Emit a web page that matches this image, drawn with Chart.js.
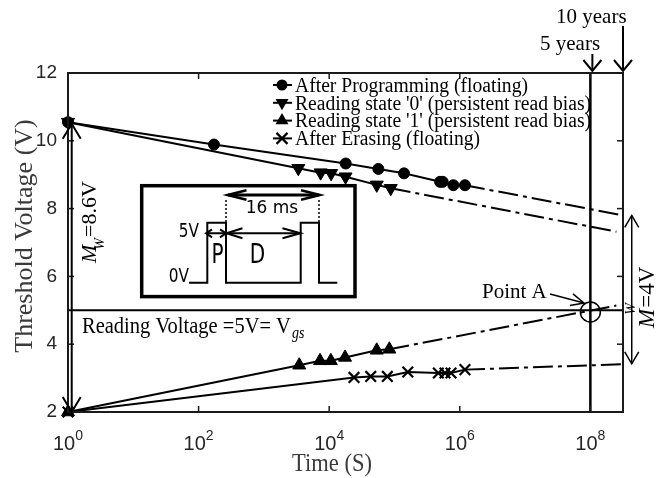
<!DOCTYPE html>
<html><head><meta charset="utf-8">
<script src="https://cdn.jsdelivr.net/npm/chart.js@4/dist/chart.umd.min.js"></script>
<style>html,body{margin:0;padding:0;background:#fff;}#wrap{width:662px;height:478px;position:relative;}canvas{display:block;}</style>
</head><body>
<div id="wrap"><canvas id="c" width="662" height="478"></canvas></div>
<script>
// ---------- data ----------
const seriesNames = [
  "After Programming (floating)",
  "Reading state '0' (persistent read bias)",
  "Reading state '1' (persistent read bias)",
  "After Erasing (floating)"
];
const progT  = [1, 172, 17900, 56600, 140000, 499000, 548000, 797000, 1200000];
const progV  = [10.55, 9.89, 9.33, 9.17, 9.04, 8.79, 8.79, 8.69, 8.69];
const read0T = [1, 3370, 7400, 10700, 17800, 53500, 87700];
const read0V = [10.55, 9.19, 9.06, 9.04, 8.94, 8.70, 8.60];
const read1T = [1, 3480, 7240, 10600, 17500, 53500, 83400];
const read1V = [2.0, 3.38, 3.51, 3.51, 3.61, 3.82, 3.85];
const eraseT = [1, 24000, 43300, 77700, 160000, 470000, 594000, 734000, 1200000];
const eraseV = [2.0, 3.02, 3.05, 3.05, 3.18, 3.15, 3.15, 3.15, 3.25];
// dash-dot extrapolations
const progExtT  = [1200000, 3.16e8];  const progExtV  = [8.69, 7.80];
const read0ExtT = [87700, 2.5e8];     const read0ExtV = [8.60, 7.32];
const read1ExtT = [83400, 2.5e8];     const read1ExtV = [3.85, 5.14];
const eraseExtT = [1200000, 3.16e8];  const eraseExtV = [3.25, 3.41];
// axes
const xMin = 1, xMax = 3.16e8, yMin = 2, yMax = 12;
const yTicks = [2, 4, 6, 8, 10, 12];
const xTickExps = [0, 2, 4, 6, 8];
// annotations
const readVoltage = 5;
const fiveYearsT = 1e8, tenYearsT = 3.16e8;
const pointA = [1e8, 4.95];
const mwLeftT = 1.14, mwLeftV = [10.5, 2.0];
const mwRightT = 4.3e8, mwRightV = [7.8, 3.42];
const texts = {
  xTitle: "Time (S)", yTitle: "Threshold Voltage (V)",
  read: "Reading Voltage =5V= V", readSub: "gs",
  pointA: "Point A", tenY: "10 years", fiveY: "5 years",
  mwL: "=8.6V", mwR: "=4V",
  t16: "16 ms", v5: "5V", v0: "0V", p: "P", d: "D"
};

function pts(T, V){ return T.map((t,i)=>({x:t, y:V[i]})); }

const serif = '"Liberation Serif","Times New Roman",serif';
const sans = '"Liberation Sans",Arial,sans-serif';
const dvs = '"DejaVu Sans",sans-serif';
const DASH = [20,5,4,5];

function solid(label, T, V, style, radius, rotation){
  return {label, data: pts(T,V), showLine:true, borderColor:'#000', backgroundColor:'#000',
    borderWidth:2, pointStyle:style, pointRadius:radius, pointRotation:rotation||0,
    pointBorderWidth:1, pointBackgroundColor:'#000', pointBorderColor:'#000', clip:false, tension:0};
}
function ext(T, V){
  return {label:'', data: pts(T,V), showLine:true, borderColor:'#000', borderWidth:2,
    borderDash:DASH, pointRadius:0, clip:false, tension:0};
}

function line(ctx,x1,y1,x2,y2){ ctx.beginPath(); ctx.moveTo(x1,y1); ctx.lineTo(x2,y2); ctx.stroke(); }
function chevron(ctx, tx, ty, ang, len, half){
  const c=Math.cos(ang), s=Math.sin(ang);
  const bx=tx-c*len, by=ty-s*len;
  ctx.beginPath();
  ctx.moveTo(bx - s*half, by + c*half); ctx.lineTo(tx,ty); ctx.lineTo(bx + s*half, by - c*half);
  ctx.stroke();
}
function marker(ctx, style, x, y){
  ctx.fillStyle='#000'; ctx.strokeStyle='#000'; ctx.lineWidth=1;
  ctx.beginPath();
  if(style==='circle'){ ctx.arc(x,y,5.5,0,Math.PI*2); ctx.fill(); }
  else if(style==='up' || style==='down'){
    const r=7.5, d = style==='up'?1:-1;
    for(let k=0;k<3;k++){ const a=k*2*Math.PI/3; const px=x+Math.sin(a)*r, py=y-d*Math.cos(a)*r; k?ctx.lineTo(px,py):ctx.moveTo(px,py);} ctx.closePath(); ctx.fill();
  } else { ctx.lineWidth=2.2; const o=5.5; ctx.moveTo(x-o,y-o); ctx.lineTo(x+o,y+o); ctx.moveTo(x+o,y-o); ctx.lineTo(x-o,y+o); ctx.stroke(); }
}

const deco = {
  id:'deco',
  beforeDatasetsDraw(chart){
    const {ctx, chartArea:a, scales:{x,y}} = chart;
    ctx.save();
    ctx.strokeStyle='#000';
    ctx.lineWidth=2;
    const yr = y.getPixelForValue(readVoltage);
    line(ctx, a.left, yr, a.right, yr);
    ctx.lineWidth=2.5;
    const x5 = x.getPixelForValue(fiveYearsT);
    line(ctx, x5, a.top, x5, a.bottom);
    // inset
    ctx.fillStyle='#fff'; ctx.lineWidth=3.5;
    ctx.fillRect(141.7,185.7,213.3,110.9); ctx.strokeRect(141.7,185.7,213.3,110.9);
    ctx.lineWidth=2;
    ctx.beginPath();
    const wv=[[189,282.7],[207.3,282.7],[207.3,222.7],[226,222.7],[226,282.7],[300.7,282.7],[300.7,222.7],[319,222.7],[319,282.7],[337.3,282.7]];
    wv.forEach((p,i)=> i?ctx.lineTo(p[0],p[1]):ctx.moveTo(p[0],p[1])); ctx.stroke();
    ctx.lineWidth=1.5; ctx.setLineDash([2,2]);
    line(ctx,226,200,226,222); line(ctx,319,200,319,222);
    ctx.setLineDash([]);
    ctx.lineWidth=3; line(ctx,228,195,319,195);
    ctx.lineWidth=2.5; chevron(ctx,227.5,195,Math.PI,19,4.8); chevron(ctx,320,195,0,19,4.8);
    ctx.lineWidth=2; line(ctx,206,233.3,300,233.3);
    chevron(ctx,206,233.3,Math.PI,6,4); chevron(ctx,226,233.3,0,6,4);
    chevron(ctx,226.5,233.3,Math.PI,16,5); chevron(ctx,300.5,233.3,0,18,5);
    ctx.fillStyle='#000';
    ctx.font='17px '+dvs; ctx.textAlign='center'; ctx.textBaseline='alphabetic';
    ctx.fillText(texts.t16, 272, 212.7);
    ctx.textAlign='right';
    [[texts.v5,199,236.5],[texts.v0,189,281.7]].forEach(([t,tx,ty])=>{ ctx.save(); ctx.translate(tx,ty); ctx.scale(0.9,1.1); ctx.fillText(t,0,0); ctx.restore(); });
    ctx.font='25px '+dvs; ctx.textAlign='center';
    [[texts.p,217.5],[texts.d,257.5]].forEach(([t,cx])=>{ ctx.save(); ctx.translate(cx,263); ctx.scale(0.8,1.05); ctx.fillText(t,0,0); ctx.restore(); });
    ctx.restore();
  },
  afterDraw(chart){
    const {ctx, chartArea:a, scales:{x,y}} = chart;
    ctx.save();
    ctx.strokeStyle='#1a1a1a'; ctx.lineWidth=2;
    ctx.strokeRect(a.left, a.top, a.right-a.left, a.bottom-a.top);
    ctx.lineWidth=1.5;
    yTicks.forEach(v=>{ const py=y.getPixelForValue(v); line(ctx,a.left,py,a.left+6,py); line(ctx,a.right,py,a.right-6,py); });
    xTickExps.forEach(e=>{ const px=x.getPixelForValue(Math.pow(10,e)); line(ctx,px,a.bottom,px,a.bottom-6); line(ctx,px,a.top,px,a.top+6); });
    // x tick labels with superscripts
    ctx.fillStyle='#262626'; ctx.textAlign='left'; ctx.textBaseline='alphabetic';
    xTickExps.forEach(e=>{
      const px=x.getPixelForValue(Math.pow(10,e));
      ctx.font='20px '+sans; const w1=ctx.measureText('10').width;
      ctx.font='14px '+sans; const w2=ctx.measureText(String(e)).width;
      const st=px-(w1+w2)/2;
      ctx.font='20px '+sans; ctx.fillText('10', st, 450);
      ctx.font='14px '+sans; ctx.fillText(String(e), st+w1, 440);
    });
    // axis titles
    ctx.fillStyle='#3a3a3a';
    ctx.font='22.5px '+serif; ctx.textAlign='center';
    ctx.save(); ctx.translate(332,471); ctx.scale(1,1.1); ctx.fillText(texts.xTitle, 0, 0); ctx.restore();
    ctx.save(); ctx.translate(32, 236); ctx.rotate(-Math.PI/2);
    ctx.font='26px '+serif; ctx.fillText(texts.yTitle, 0, 0); ctx.restore();
    // annotations
    ctx.fillStyle='#000'; ctx.strokeStyle='#000';
    ctx.font='20.5px '+serif; ctx.textAlign='left';
    ctx.save(); ctx.translate(82,333); ctx.scale(1,1.14);
    ctx.fillText(texts.read, 0, 0);
    const wr=ctx.measureText(texts.read).width;
    ctx.font='italic 14px '+serif; ctx.fillText(texts.readSub, wr+1, 4.5);
    ctx.restore();
    ctx.font='21px '+serif;
    ctx.fillText(texts.pointA, 482, 298);
    ctx.fillText(texts.tenY, 556, 23.3);
    ctx.fillText(texts.fiveY, 540, 50);
    const x10=x.getPixelForValue(tenYearsT), x5=x.getPixelForValue(fiveYearsT);
    ctx.lineWidth=2;
    line(ctx,x10,26,x10,71); chevron(ctx,x10,71,Math.PI/2,11,9);
    line(ctx,x5+2,54,x5+2,71); chevron(ctx,x5+2,71,Math.PI/2,11,9);
    ctx.lineWidth=1.5;
    ctx.beginPath(); ctx.arc(x.getPixelForValue(pointA[0]), y.getPixelForValue(pointA[1]), 10, 0, Math.PI*2); ctx.stroke();
    line(ctx,550,294,584,303); chevron(ctx,584,303,Math.atan2(9,34),13,6);
    // left M_W arrow
    const xl=x.getPixelForValue(mwLeftT), yl1=y.getPixelForValue(mwLeftV[0]), yl2=y.getPixelForValue(mwLeftV[1]);
    ctx.lineWidth=2; line(ctx,xl,yl1,xl,yl2);
    chevron(ctx,xl,yl1,-Math.PI/2,15,9); chevron(ctx,xl,yl2,Math.PI/2,15,9);
    ctx.save(); ctx.translate(96,263); ctx.rotate(-Math.PI/2);
    ctx.font='italic 22px '+serif; ctx.fillText('M',0,0); let wm=ctx.measureText('M').width;
    ctx.font='italic 14px '+serif; ctx.fillText('W',wm-5,8); let ww=ctx.measureText('W').width;
    ctx.font='22px '+serif; ctx.fillText(texts.mwL, wm-5+ww+1, 0);
    ctx.restore();
    // right M_W arrow
    const xr=x.getPixelForValue(mwRightT), yr1=y.getPixelForValue(mwRightV[0]), yr2=y.getPixelForValue(mwRightV[1]);
    ctx.lineWidth=1.5; line(ctx,xr,yr1,xr,yr2);
    chevron(ctx,xr,yr1,-Math.PI/2,12,7); chevron(ctx,xr,yr2,Math.PI/2,12,7);
    ctx.save(); ctx.translate(654,328); ctx.rotate(-Math.PI/2);
    ctx.font='italic 23px '+serif; ctx.fillText('M',0,0); wm=ctx.measureText('M').width;
    ctx.font='italic 14px '+serif; ctx.fillText('W',wm-6,-19);
    ctx.font='23px '+serif; ctx.fillText(texts.mwR, wm+1, 0);
    ctx.restore();
    // legend
    const styles=['circle','down','up','cross'];
    const base=[91.7,109.5,127.3,145.1];
    seriesNames.forEach((nm,i)=>{
      const cy=base[i]-6.7;
      ctx.strokeStyle='#000'; ctx.lineWidth=2; line(ctx,273,cy,292,cy);
      marker(ctx, styles[i], 282, cy);
      ctx.fillStyle='#000'; ctx.font='20px '+serif; ctx.textAlign='left';
      ctx.save(); ctx.translate(295, base[i]); ctx.scale(0.98,1.08); ctx.fillText(nm, 0, 0); ctx.restore();
    });
    ctx.restore();
  }
};

new Chart(document.getElementById('c'), {
  type:'scatter',
  data:{ datasets:[
    solid(seriesNames[0], progT, progV, 'circle', 5.5, 0),
    solid(seriesNames[1], read0T, read0V, 'triangle', 7.5, 180),
    solid(seriesNames[2], read1T, read1V, 'triangle', 7.5, 0),
    Object.assign(solid(seriesNames[3], eraseT, eraseV, 'crossRot', 7.5, 0), {pointBorderWidth:2.2}),
    ext(progExtT, progExtV), ext(read0ExtT, read0ExtV), ext(read1ExtT, read1ExtV), ext(eraseExtT, eraseExtV)
  ]},
  options:{
    responsive:false, animation:false, devicePixelRatio:1,
    layout:{ padding:{top:73, right:39, left:0, bottom:0}, autoPadding:false },
    plugins:{ legend:{display:false}, tooltip:{enabled:false}, title:{display:false} },
    scales:{
      x:{ type:'logarithmic', min:xMin, max:xMax,
          grid:{display:false, drawTicks:false}, border:{display:false},
          ticks:{display:false},
          afterFit(s){ s.height = 66; } },
      y:{ type:'linear', min:yMin, max:yMax,
          grid:{display:false, drawTicks:false}, border:{display:false},
          afterBuildTicks(s){ s.ticks = yTicks.map(v=>({value:v})); },
          ticks:{ padding:11, color:'#262626', font:{family:'"Liberation Sans", Arial, sans-serif', size:19} },
          afterFit(s){ s.width = 68; } }
    }
  },
  plugins:[deco]
});
</script>
</body></html>
